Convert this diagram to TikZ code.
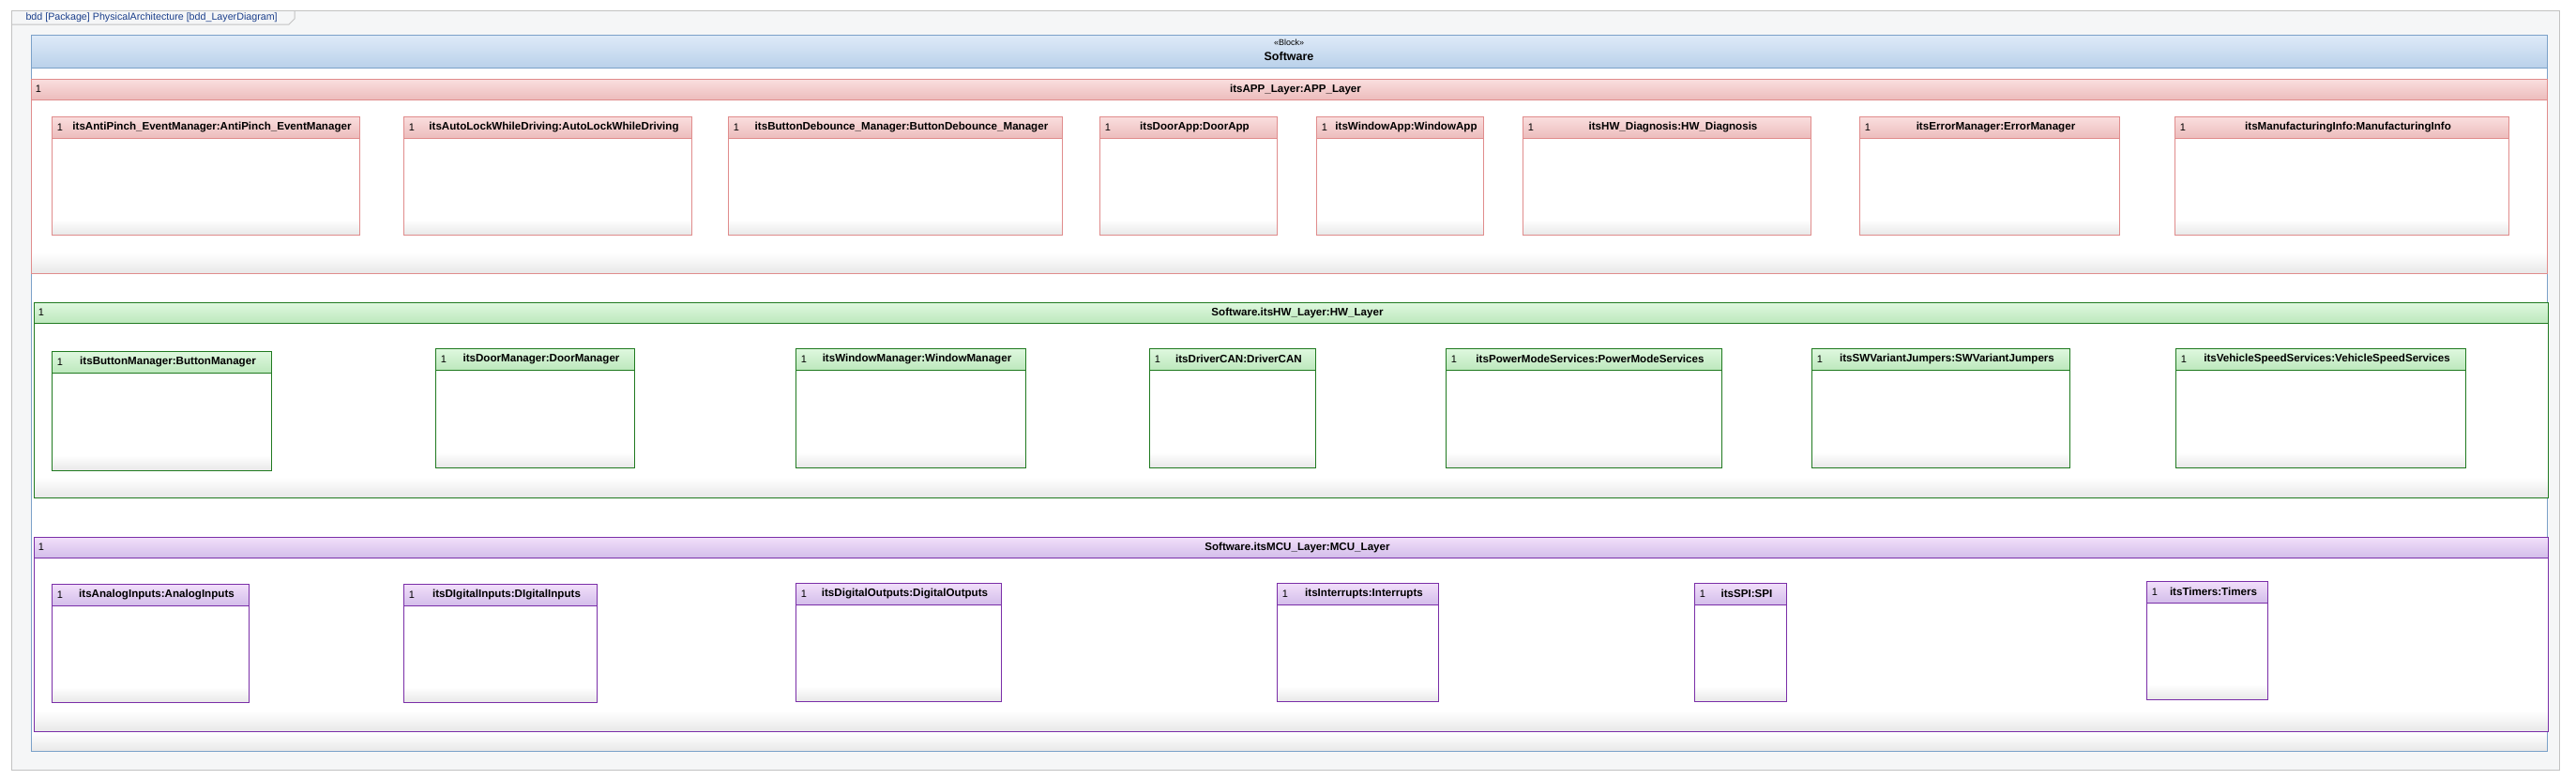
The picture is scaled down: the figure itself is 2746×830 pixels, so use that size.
\documentclass[tikz,border=0pt]{standalone}
\usepackage{fontspec}
\setmainfont{Liberation Sans}
\definecolor{framefill}{HTML}{F5F6F7}
\definecolor{frameline}{HTML}{C2C2C2}
\definecolor{tabtext}{HTML}{1B3F8C}
\definecolor{blocktop}{HTML}{DEEAF8}
\definecolor{blockbot}{HTML}{BAD1EA}
\definecolor{blockline}{HTML}{7BA1C9}
\definecolor{apptop}{HTML}{FADFDF}
\definecolor{appbot}{HTML}{ECBCBC}
\definecolor{appline}{HTML}{E08C8C}
\definecolor{hwtop}{HTML}{DFF8DF}
\definecolor{hwbot}{HTML}{BDE8BD}
\definecolor{hwline}{HTML}{207A20}
\definecolor{mcutop}{HTML}{F2E0FA}
\definecolor{mcubot}{HTML}{D3BDEA}
\definecolor{mculine}{HTML}{7A2EA8}
\tikzset{
  onetext/.style={inner sep=0pt,font=\fontsize{11}{13}\selectfont},
  nametext/.style={inner sep=0pt,font=\bfseries\fontsize{11.6}{13}\selectfont},
}
% #1 name, #2 colour set, #3 left, #4 top, #5 right, #6 bottom, #7 label
\newcommand\layerbox[7]{
  \fill[white] (#3,#4) rectangle (#5,#6);
  \shade[top color=white,bottom color=black!9] (#3,#6-22) rectangle (#5,#6);
  \shade[top color=#2top,bottom color=#2bot] (#3,#4) rectangle (#5,#4+22);
  \draw[#2line] (#3,#4) rectangle (#5,#6);
  \draw[#2line] (#3,#4+22) -- (#5,#4+22);
  \node[onetext] at (#3+8,#4+11) {1};
  \node[nametext] (#1) at ({(#3+14+#5)/2},#4+11) {#7};
}
\newcommand\compbox[7]{
  \fill[white] (#3,#4) rectangle (#5,#6);
  \shade[top color=white,bottom color=black!9] (#3,#6-16) rectangle (#5,#6);
  \shade[top color=#2top,bottom color=#2bot] (#3,#4) rectangle (#5,#4+23);
  \draw[#2line] (#3,#4) rectangle (#5,#6);
  \draw[#2line] (#3,#4+23) -- (#5,#4+23);
  \node[onetext] at (#3+9,#4+11.5) {1};
  \node[nametext] (#1) at ({(#3+14+#5)/2},#4+11.5) {#7};
}
\begin{document}
\begin{tikzpicture}[x=1pt,y=-1pt,line width=1pt]
    \useasboundingbox[fill=white] (0,0) rectangle (2746,830);
    % frame
    \draw[frameline,fill=framefill] (12,11) rectangle (2728,820);
    \draw[frameline] (12,26) -- (308,26) -- (314,20) -- (314,11);
    \node[anchor=west,inner sep=0pt,text=tabtext,font=\fontsize{10.7}{12}\selectfont] (tab) at (27,18.5) {bdd [Package] PhysicalArchitecture [bdd\_LayerDiagram]};
    % block
    \fill[white] (33,37) rectangle (2715,800);
    \shade[top color=white,bottom color=black!9] (33,780) rectangle (2715,800);
    \shade[top color=blocktop,bottom color=blockbot] (33,37) rectangle (2715,72);
    \draw[blockline] (33,37) rectangle (2715,800);
    \draw[blockline] (33,72) -- (2715,72);
    \node[inner sep=0pt,font=\fontsize{9}{10}\selectfont] (stereo) at (1374,45) {«Block»};
    \node[inner sep=0pt,font=\bfseries\fontsize{12.5}{14}\selectfont] (software) at (1374,60) {Software};
    % layers
    \layerbox{applayer}{app}{33}{84}{2715}{291}{itsAPP\_Layer:APP\_Layer}
    \layerbox{hwlayer}{hw}{36}{322}{2716}{530}{Software.itsHW\_Layer:HW\_Layer}
    \layerbox{mculayer}{mcu}{36}{572}{2716}{779}{Software.itsMCU\_Layer:MCU\_Layer}
    % APP layer parts
    \compbox{antipinch}{app}{55}{124}{383}{250}{itsAntiPinch\_EventManager:AntiPinch\_EventManager}
    \compbox{autolock}{app}{430}{124}{737}{250}{itsAutoLockWhileDriving:AutoLockWhileDriving}
    \compbox{debounce}{app}{776}{124}{1132}{250}{itsButtonDebounce\_Manager:ButtonDebounce\_Manager}
    \compbox{doorapp}{app}{1172}{124}{1361}{250}{itsDoorApp:DoorApp}
    \compbox{windowapp}{app}{1403}{124}{1581}{250}{itsWindowApp:WindowApp}
    \compbox{hwdiag}{app}{1623}{124}{1930}{250}{itsHW\_Diagnosis:HW\_Diagnosis}
    \compbox{errormgr}{app}{1982}{124}{2259}{250}{itsErrorManager:ErrorManager}
    \compbox{mfginfo}{app}{2318}{124}{2674}{250}{itsManufacturingInfo:ManufacturingInfo}
    % HW layer parts
    \compbox{buttonmgr}{hw}{55}{374}{289}{501}{itsButtonManager:ButtonManager}
    \compbox{doormgr}{hw}{464}{371}{676}{498}{itsDoorManager:DoorManager}
    \compbox{windowmgr}{hw}{848}{371}{1093}{498}{itsWindowManager:WindowManager}
    \compbox{drivercan}{hw}{1225}{371}{1402}{498}{itsDriverCAN:DriverCAN}
    \compbox{powermode}{hw}{1541}{371}{1835}{498}{itsPowerModeServices:PowerModeServices}
    \compbox{swvariant}{hw}{1931}{371}{2206}{498}{itsSWVariantJumpers:SWVariantJumpers}
    \compbox{vehspeed}{hw}{2319}{371}{2628}{498}{itsVehicleSpeedServices:VehicleSpeedServices}
    % MCU layer parts
    \compbox{analogin}{mcu}{55}{622}{265}{748}{itsAnalogInputs:AnalogInputs}
    \compbox{digitalin}{mcu}{430}{622}{636}{748}{itsDIgitalInputs:DIgitalInputs}
    \compbox{digitalout}{mcu}{848}{621}{1067}{747}{itsDigitalOutputs:DigitalOutputs}
    \compbox{interrupts}{mcu}{1361}{621}{1533}{747}{itsInterrupts:Interrupts}
    \compbox{spi}{mcu}{1806}{621}{1904}{747}{itsSPI:SPI}
    \compbox{timers}{mcu}{2288}{619}{2417}{745}{itsTimers:Timers}
\end{tikzpicture}
\end{document}
